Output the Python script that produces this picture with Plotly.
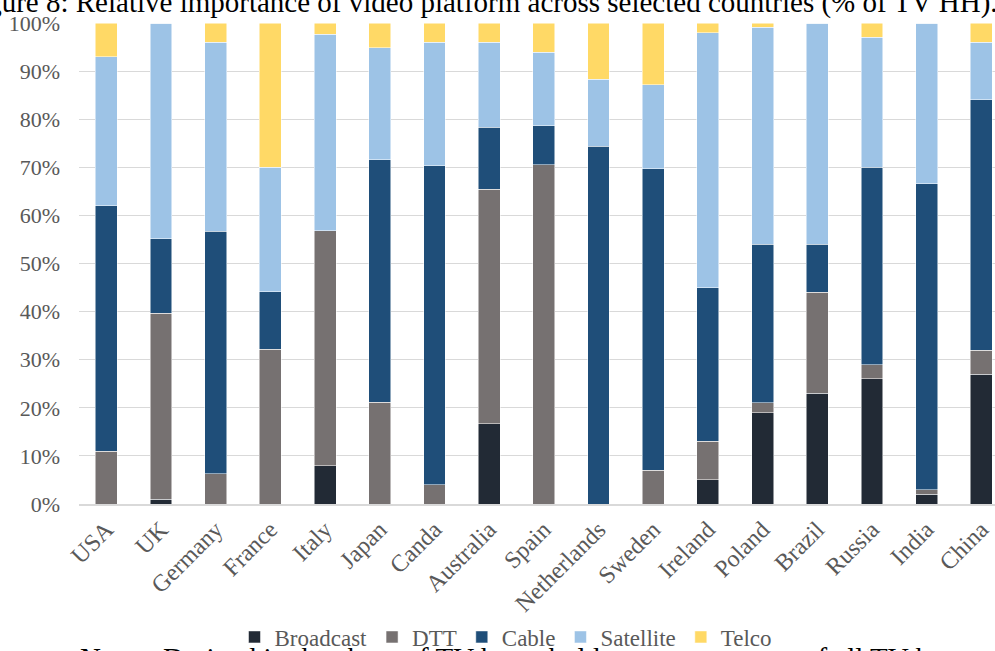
import plotly.graph_objects as go

COUNTRIES = ["USA", "UK", "Germany", "France", "Italy", "Japan", "Canda", "Australia",
             "Spain", "Netherlands", "Sweden", "Ireland", "Poland", "Brazil", "Russia",
             "India", "China"]
BROADCAST = [0, 1, 0, 0, 8, 0, 0, 16.7, 0, 0, 0, 5, 19, 23, 26, 2, 27]
DTT = [11, 38.7, 6.3, 32.2, 48.8, 21.2, 4, 48.7, 70.5, 0, 7, 8, 2, 21, 3, 1, 5]
CABLE = [51, 15.4, 50.4, 11.9, 0, 50.4, 66.3, 12.9, 8.1, 74.4, 62.7, 32, 33, 10, 41, 63.6, 52]
SATELLITE = [31, 44.9, 39.3, 25.9, 40.9, 23.3, 25.7, 17.7, 15.3, 13.9, 17.5, 53, 45.1, 46, 27, 33.4, 12]
TELCO = [7, 0, 4, 30, 2.3, 5.1, 4, 4, 6.1, 11.7, 12.8, 2, 0.9, 0, 3, 0, 4]

Y_TICKS = [0, 10, 20, 30, 40, 50, 60, 70, 80, 90, 100]
Y_TICK_LABELS = ["0%", "10%", "20%", "30%", "40%", "50%", "60%", "70%", "80%", "90%", "100%"]

SERIES = [
    ("Broadcast", BROADCAST, "#222a35"),
    ("DTT", DTT, "#767171"),
    ("Cable", CABLE, "#1f4e79"),
    ("Satellite", SATELLITE, "#9dc3e6"),
    ("Telco", TELCO, "#ffd966"),
]

FONT = "Liberation Serif, Times New Roman, serif"
GREY = "#595959"
ML, MT, MB = 79, 23, 147
PW, PH = 995 - ML, 651 - MT - MB

fig = go.Figure()
for name, values, color in SERIES:
    fig.add_trace(
        go.Bar(
            x=COUNTRIES,
            y=values,
            name=name,
            marker={"color": color, "line": {"color": "white", "width": 0.5}},
        )
    )

fig.update_layout(
    template="none",
    width=995,
    height=651,
    barmode="stack",
    bargap=0.6,
    paper_bgcolor="white",
    plot_bgcolor="white",
    margin={"l": ML, "r": 0, "t": MT, "b": MB, "autoexpand": False},
    font={"family": FONT, "size": 22, "color": GREY},
    xaxis={
        "range": [-0.5, 16.25],
        "tickangle": -45,
        "showgrid": False,
        "showline": True,
        "linecolor": "#d9d9d9",
        "linewidth": 2,
        "ticks": "",
        "ticklabelstandoff": 0,
        "tickfont": {"family": FONT, "size": 24, "color": GREY},
    },
    yaxis={
        "range": [0, 100],
        "tickmode": "array",
        "tickvals": Y_TICKS,
        "ticktext": Y_TICK_LABELS,
        "showgrid": True,
        "gridcolor": "#d9d9d9",
        "gridwidth": 1,
        "zeroline": False,
        "showline": False,
        "ticks": "",
        "ticklabelstandoff": 18,
        "tickfont": {"family": FONT, "size": 22, "color": GREY},
    },
    legend={
        "orientation": "h",
        "x": (506 - ML) / PW,
        "xanchor": "center",
        "y": (MT + PH - 637) / PH,
        "yanchor": "middle",
        "font": {"family": FONT, "size": 23, "color": GREY},
        "itemwidth": 30,
        "traceorder": "normal",
    },
    showlegend=True,
)

fig.add_annotation(
    text="Figure 8: Relative importance of video platform across selected countries (% of TV HH).",
    xref="paper", yref="paper",
    x=(-39 - ML) / PW, y=(MT + PH - 2) / PH,
    xanchor="left", yanchor="middle",
    showarrow=False,
    font={"family": FONT, "size": 29, "color": "black"},
)
fig.add_annotation(
    text="Notes: Derived in the share of TV households as a percentage of all TV homes in 2011 by country.",
    xref="paper", yref="paper",
    x=(78 - ML) / PW, y=(MT + PH - 658) / PH,
    xanchor="left", yanchor="middle",
    showarrow=False,
    font={"family": FONT, "size": 29, "color": "black"},
)

fig.write_html(
    "out.html",
    config={"displayModeBar": False},
    post_script="document.body.style.margin='0px';",
)
